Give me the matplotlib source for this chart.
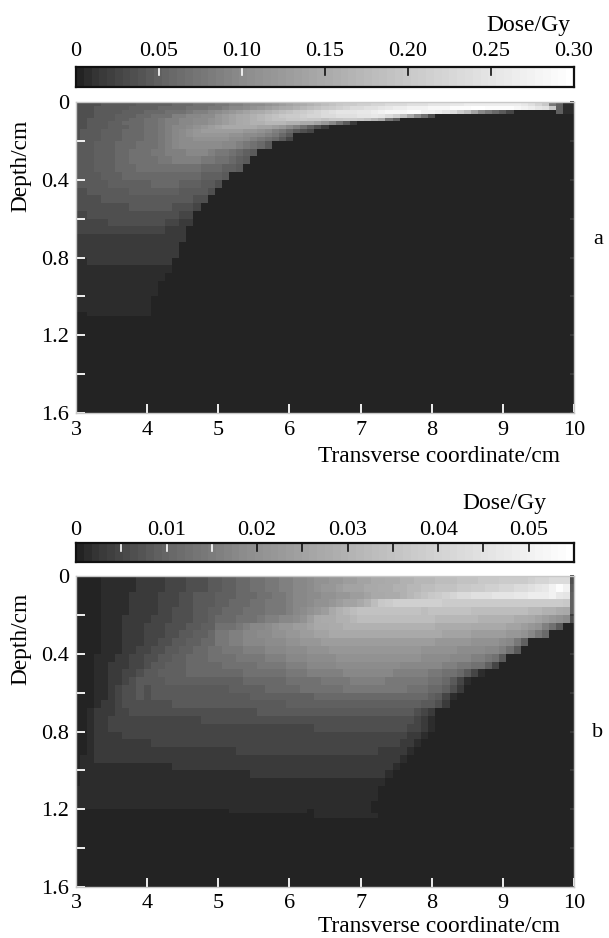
import numpy as np
import matplotlib
matplotlib.use('Agg')
import matplotlib.pyplot as plt
from matplotlib.colors import LinearSegmentedColormap

plt.rcParams['font.family'] = ['Liberation Serif', 'DejaVu Serif']

W, H = 609, 938

# grey levels of the picture, one character per cell, 0 = no dose, z = maximum
# missing cells at the right of a row are zero
depth_a = [0, .02, .04, .06, .08, .10, .12, .14, .16, .18, .20, .24, .28, .32, .36, .40, .44, .48, .52,
           .56, .60, .64, .68, .72, .76, .80, .84, .88, .92, .96, 1.00, 1.04, 1.08, 1.10, 1.6]
rows_a = [
    "4444555556 6666777888 99aabccdef ghijklmnoo ppqqrrrsss tttuuvvvvv vvvusqn961 1",
    "4445555566 6677778889 9abbcdefgh ijklmnopqr rsstuvvwww xxxyyyzzyy yyxwvtsn61 1",
    "4445555666 7778889aab cdefghijkl mnopqrsttt uuvwxxxyyw wvtrolgb97 5300000061 1",
    "4445556667 7888aabbcc efghijklmn oopqqrrsss ttutrpmhc8 4",
    "4455556677 889aabbccd efghijklmm nnonnmnnoo nmki96",
    "4455566777 889aabbccd efghijjkkk jjiigeb852",
    "4455566677 889abbcdef ghhhhhggfe ca8642",
    "4555666777 889abcdeff ffffeedca9 7543",
    "4555666777 889abcdeee eeddccba97 5",
    "4555666777 889abccddd ddccba9875 3",
    "5556667778 889abccccc cbba9875",
    "5556667788 899aaabbba 998765",
    "5556667788 8899aaaa99 88765",
    "5556667778 8888888877 7665",
    "5555666777 7777777766 65",
    "5555566666 6777766655 4",
    "4455555566 6666655554",
    "4444555555 555555544",
    "4444444455 55554443",
    "3344444444 4444433",
    "3333344444 4443322",
    "3333333333 333222",
    "2222222222 222222",
    "2222222222 22222",
    "2222222222 22222",
    "1122222222 2222",
    "1111111111 1111",
    "1111111111 111",
    "1111111111 11",
    "1111111111 11",
    "1111111111 1",
    "1111111111 1",
    "0011111111 1",
    "",
]

depth_b = [0, .04, .08, .12, .16, .20, .24, .28, .32, .36, .40, .44, .48, .52, .56, .60, .64, .68, .72,
           .76, .80, .84, .88, .92, .96, 1.00, 1.04, 1.08, 1.12, 1.16, 1.18, 1.20, 1.22, 1.245, 1.6]
rows_b = [
    "0000111112 2223334445 5667788 99a abbcddeeff gghhiijjkk klllmmmnnn oooopqqrrr 4",
    "0000111112 2223334445 5667788 99a abbcdeefgg ghhiijjkkl lmmmnnoopp qqrrstuwyw 5",
    "0000111122 2233344555 6667778899 abbccddeef fghhiijklm nopqrrssst ttuuvvvwut 6",
    "0000111122 2233344555 6677788999 abbcddefgg hjlnoppppp ppoooooooo ooooooooon 6",
    "0000111122 2233444556 6777888999 abcdefhjkl mmmmmmmmml mmmmmmllll llllkkjjih 6",
    "0000111222 2333444556 7778889aab bcdfhiijjk llllllllll lkkkkkkjjj jjiihgfedc 4",
    "0000111222 3334445566 8889abbcde effghhiijj jjjjjjjjjj jiiiiihhhh hggfeda85",
    "0000111222 3334455667 99aabbccdd eeffgghhhh hhhhhhhhhh hhggggffff feedb97",
    "0000111222 3344556677 99aabbbccc ddeeefffff ffffffffff feeeeedddd cb96",
    "0000111223 3445566778 8999aaabbb cccdddeeee eeeeeeeeed ddddccccbb a85",
    "0001112233 4455667778 8889999aaa bbbccccddd dddddddddc cccbbbaa98 5",
    "0001122233 4556667777 7888889999 aaabbbbccc ccccccbbbb bbaa998863",
    "0001122334 5566667777 7777888888 999aaaaabb bbbbbaaaaa 99887531",
    "0001122345 5556666666 6666777777 888889999a aaaa999999 887531",
    "0001123445 4555555555 5566666777 7788888899 9999999888 77642",
    "0001123445 4555555555 5555566666 6666777777 7777777777 6531",
    "0001223444 4444555555 5555555555 6666666666 6666666665 542",
    "0012223344 4444444444 4444445555 5555555555 5555555543 2",
    "0012233333 3333333344 4444444444 4444444444 4444444432 1",
    "0012233333 3333333333 3333333333 3333444444 4444444332 1",
    "0012222333 3333333333 3333333333 3333333333 3333333221",
    "0012222222 2333333333 3333333333 3333333333 333333221",
    "0012222222 2222222222 2223333333 3333333333 33322221",
    "0112222222 2222222222 2222222222 2222222222 2222221",
    "0111111111 1111222222 2222222222 2222222222 222221",
    "0111111111 1111111111 1111122222 2222222222 22221",
    "0111111111 1111111111 1111111111 1111111111 1111",
    "1111111111 1111111111 1111111111 1111111111 111",
    "1111111111 1111111111 1111111111 1111111111 111",
    "1111111111 1111111111 1111111111 1111111111 11",
    "1111111111 1111111111 1111111111 1111111111 11",
    "0000000000 0000000000 0011111111 1110111111 11",
    "0000000000 0000000000 0000000000 0000111111 111",
    "",
]

vmax_a = 0.30
vmax_b = 0.055
cbar_ticks_a = [0.05, 0.10, 0.15, 0.20, 0.25]
cbar_labels_a = ['0', '0.05', '0.10', '0.15', '0.20', '0.25', '0.30']
cbar_label_pos_a = [0, 0.05, 0.10, 0.15, 0.20, 0.25, 0.30]
cbar_white_a = 2
cbar_ticks_b = [.005, .01, .015, .02, .025, .03, .035, .04, .045, .05]
cbar_labels_b = ['0', '0.01', '0.02', '0.03', '0.04', '0.05']
cbar_label_pos_b = [0, .01, .02, .03, .04, .05]
cbar_white_b = 3

grey_frac = [0, .029, .057, .086, .114, .143, .171, .333, .5, .667, .833, 1]
grey_val = [35, 51, 61, 71, 80, 90, 100, 140, 170, 200, 228, 255]
cmap = LinearSegmentedColormap.from_list(
    'dose', [(f, (v / 255, v / 255, v / 255)) for f, v in zip(grey_frac, grey_val)], N=64)

CODES = '0123456789abcdefghijklmnopqrstuvwxyz'


def decode(rows):
    out = []
    for r in rows:
        r = r.replace(' ', '').ljust(71, '0')
        out.append([CODES.index(c) / 35 for c in r[:71]])
    return np.array(out)


def box(l, t, r, b):
    return [l / W, 1 - b / H, (r - l) / W, (b - t) / H]


def panel(rows, depth, vmax, ticks, labels, label_pos, n_white, cb_t, cb_b, ax_t, ax_b, dose_x, dose_y, cb_y,
          trans_y, tick_y, depth_y, letter, letter_y):
    L, R = 76, 574
    cax = fig.add_axes(box(L, cb_t, R, cb_b))
    lev = np.linspace(0, 1, 65)
    cax.pcolormesh(lev * vmax, [0, 1], ((lev[:-1] + lev[1:]) / 2)[None, :], cmap=cmap, vmin=0, vmax=1)
    cax.set_xlim(0, vmax)
    cax.set_ylim(0, 1)
    cax.set_yticks([])
    cax.set_xticks([])
    for s in cax.spines.values():
        s.set_linewidth(1.6)
        s.set_color('#111111')
    for i, t in enumerate(ticks):
        c = 'white' if i < n_white else '#111111'
        cax.plot([t, t], [1, 0.6], color=c, lw=1.2)
    for t, s in zip(label_pos, labels):
        fig.text((L + (R - L) * t / vmax) / W, 1 - cb_y / H, s, ha='center', va='center', fontsize=16)
    fig.text(dose_x / W, 1 - dose_y / H, 'Dose/Gy', ha='right', va='center', fontsize=17)

    ax = fig.add_axes(box(L, ax_t, R, ax_b))
    edges = np.concatenate([[3], np.arange(3.05, 10, 0.1), [10]])
    ax.pcolormesh(edges, depth, decode(rows), cmap=cmap, vmin=0, vmax=1)
    ax.set_xlim(3, 10)
    ax.set_ylim(1.6, 0)
    ax.set_xticks(range(3, 11))
    ax.set_yticks([0, .2, .4, .6, .8, 1.0, 1.2, 1.4, 1.6])
    ax.set_yticklabels(['0', '', '0.4', '', '0.8', '', '1.2', '', '1.6'])
    ax.set_xticklabels([])
    ax.tick_params(axis='both', direction='in', length=6.5, width=1.3, color='white', labelsize=16, pad=5)
    ax.tick_params(axis='y', right=True, pad=5)
    for s in ax.spines.values():
        s.set_color('#c8c8c8')
        s.set_linewidth(1)
    for x in range(3, 11):
        fig.text((L + (R - L) * (x - 3) / 7) / W, 1 - tick_y / H, str(x), ha='center', va='center', fontsize=16)
    for t in ax.yaxis.get_major_ticks():
        t.tick2line.set_markeredgecolor('#3a3a3a')
        t.tick2line.set_markersize(3)
    fig.text(560 / W, 1 - trans_y / H, 'Transverse coordinate/cm', ha='right', va='center', fontsize=16.8)
    fig.text(21 / W, 1 - depth_y / H, 'Depth/cm', ha='center', va='center', rotation=90, fontsize=16.8)
    fig.text(598 / W, 1 - letter_y / H, letter, ha='center', va='center', fontsize=16)


fig = plt.figure(figsize=(W / 100, H / 100), dpi=100, facecolor='white')
panel(rows_a, depth_a, vmax_a, cbar_ticks_a, cbar_labels_a, cbar_label_pos_a, cbar_white_a,
      67, 87, 102, 413, 570, 25, 52, 456, 430, 166, 'a', 239)
panel(rows_b, depth_b, vmax_b, cbar_ticks_b, cbar_labels_b, cbar_label_pos_b, cbar_white_b,
      543, 562, 576, 887, 546, 503, 530, 926, 903, 639, 'b', 732)
fig.savefig('out.png', dpi=100)
